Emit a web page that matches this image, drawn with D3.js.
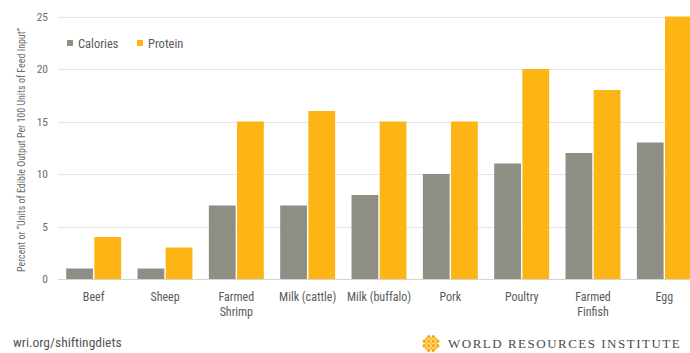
<!DOCTYPE html>
<html>
<head>
<meta charset="utf-8">
<script src="https://cdn.jsdelivr.net/npm/d3@7"></script>
<style>
  html, body { margin: 0; padding: 0; background: #fff; }
  svg { display: block; }
  text { font-family: "Liberation Sans Narrow", "Roboto Condensed", Roboto, sans-serif; }
</style>
</head>
<body>
<svg id="chart" width="690" height="353"></svg>
<script>
// Feed conversion efficiency by animal product
const categories = ["Beef", "Sheep", "Farmed\nShrimp", "Milk (cattle)", "Milk (buffalo)", "Pork", "Poultry", "Farmed\nFinfish", "Egg"];
const seriesNames = ["Calories", "Protein"];
const calories = [1, 1, 7, 7, 8, 10, 11, 12, 13];
const protein = [4, 3, 15, 16, 15, 15, 20, 18, 25];
const yTicks = [0, 5, 10, 15, 20, 25];
const colors = { Calories: "#8e8e84", Protein: "#fdb515" };

const svg = d3.select("#chart");
const W = 690, H = 353;

const x0 = d3.scaleBand().domain(categories).range([58, 700]).paddingInner(0.23).paddingOuter(0.115);
const x1 = d3.scaleBand().domain(seriesNames).range([0, x0.bandwidth()]).paddingInner(0.05);
const y = d3.scaleLinear().domain([0, 25]).range([279, 16.5]);

// Gridlines
svg.append("g")
  .selectAll("line")
  .data(yTicks)
  .join("line")
  .attr("x1", 58).attr("x2", W)
  .attr("y1", d => Math.round(y(d)) + 0.5)
  .attr("y2", d => Math.round(y(d)) + 0.5)
  .attr("stroke", d => d === 0 ? "#d4d4d4" : "#e3e3e3")
  .attr("stroke-width", 1);

// Y axis tick labels
const yAxis = d3.axisLeft(y).tickValues(yTicks).tickSize(0).tickPadding(0);
const gy = svg.append("g").attr("transform", "translate(48,0)").call(yAxis);
gy.select(".domain").remove();
gy.selectAll("text")
  .attr("fill", "#6d6d6d")
  .style("font-size", "11.5px")
  .style("font-family", "'Liberation Sans Narrow', 'Roboto Condensed', Roboto, sans-serif");

// Y axis title (condensed to fit the plot height)
svg.append("text")
  .attr("transform", "translate(25,150) rotate(-90)")
  .attr("text-anchor", "middle")
  .attr("fill", "#6d6d6d")
  .attr("textLength", 244)
  .attr("lengthAdjust", "spacingAndGlyphs")
  .style("font-size", "11px")
  .text("Percent or \u201CUnits of Edible Output Per 100 Units of Feed Input\u201D");

// Bars
const rows = categories.map((c, i) => ({ cat: c, values: [
  { key: "Calories", value: calories[i] },
  { key: "Protein", value: protein[i] }
]}));

svg.append("g")
  .selectAll("g")
  .data(rows)
  .join("g")
  .attr("transform", d => `translate(${x0(d.cat)},0)`)
  .selectAll("rect")
  .data(d => d.values)
  .join("rect")
  .attr("x", d => x1(d.key))
  .attr("width", x1.bandwidth())
  .attr("y", d => y(d.value))
  .attr("height", d => y(0) - y(d.value))
  .attr("fill", d => colors[d.key]);

// Category labels
const xl = svg.append("g");
categories.forEach(c => {
  const lines = c.split("\n");
  const cx = x0(c) + x0.bandwidth() / 2;
  const t = xl.append("text")
    .attr("x", cx)
    .attr("y", 301)
    .attr("text-anchor", "middle")
    .attr("fill", "#5a5a5a")
    .style("font-size", "12px");
  lines.forEach((ln, i) => {
    t.append("tspan").attr("x", cx).attr("dy", i === 0 ? 0 : 15).text(ln);
  });
});

// Legend
const legend = svg.append("g").attr("transform", "translate(67,38)");
const legendX = [0, 70];
seriesNames.forEach((s, i) => {
  const g = legend.append("g").attr("transform", `translate(${legendX[i]},0)`);
  g.append("rect").attr("width", 6).attr("height", 6).attr("y", 2).attr("fill", colors[s]);
  g.append("text").attr("x", 11).attr("y", 9.5).attr("fill", "#5a5a5a").style("font-size", "12.5px").text(s);
});

// Footer
svg.append("text")
  .attr("x", 13).attr("y", 347)
  .attr("fill", "#555")
  .style("font-size", "13.5px")
  .text("wri.org/shiftingdiets");

// Logo: a lattice of dots rotated into a diamond
const logo = svg.append("g").attr("transform", "translate(431,343.5) rotate(45)");
const pts = [];
for (let i = -2; i <= 2; i++) for (let j = -2; j <= 2; j++) {
  if (Math.abs(i) + Math.abs(j) <= 3) pts.push([i, j]);
}
logo.selectAll("circle")
  .data(pts)
  .join("circle")
  .attr("cx", d => d[0] * 3.2)
  .attr("cy", d => d[1] * 3.2)
  .attr("r", 1.7)
  .attr("fill", (d) => (Math.abs(d[0]) + Math.abs(d[1])) % 2 ? "#f8a51b" : "#fdc52a");

svg.append("text")
  .attr("x", 448).attr("y", 348)
  .attr("fill", "#4a4a4a")
  .style("font-family", "'Liberation Serif', 'DejaVu Serif', serif")
  .style("font-size", "13px")
  .style("letter-spacing", "1.5px")
  .text("WORLD RESOURCES INSTITUTE");
</script>
</body>
</html>
